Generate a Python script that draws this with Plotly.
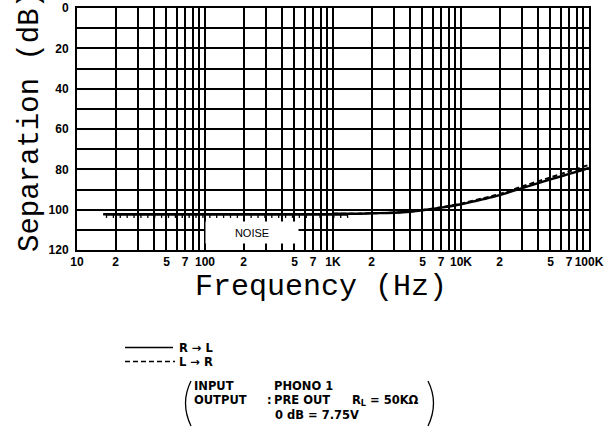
import numpy as np
import plotly.graph_objects as go

# ---------------- data ----------------
freq_hz = [1000, 1500, 2000, 3000, 4000, 5000, 7000, 10000, 15000, 20000, 30000, 50000, 70000, 100000]
sep_r_to_l = [102.0, 102.0, 101.8, 101.5, 101.0, 100.3, 99.0, 97.3, 94.8, 92.8, 89.3, 85.0, 82.3, 79.3]
sep_l_to_r = [102.0, 102.0, 101.8, 101.5, 101.0, 100.2, 98.8, 97.0, 94.3, 92.2, 88.5, 84.0, 81.0, 77.8]

noise_start_hz = 16
noise_end_hz = 1300
noise_level_db = 102.3

x_tick_vals = [10, 20, 30, 40, 50, 60, 70, 80, 90,
               100, 200, 300, 400, 500, 600, 700, 800, 900,
               1000, 2000, 3000, 4000, 5000, 6000, 7000, 8000, 9000,
               10000, 20000, 30000, 40000, 50000, 60000, 70000, 80000, 90000,
               100000]
x_tick_text = ["10", "2", "", "", "5", "", "7", "", "",
               "100", "2", "", "", "5", "", "7", "", "",
               "1K", "2", "", "", "5", "", "7", "", "",
               "10K", "2", "", "", "5", "", "7", "", "",
               "100K"]
y_tick_vals = [0, 10, 20, 30, 40, 50, 60, 70, 80, 90, 100, 110, 120]
y_tick_text = ["0", "", "20", "", "40", "", "60", "", "80", "", "100", "", "120"]

# ---------------- layout helpers (pixel -> paper) ----------------
L, R, T, B = 77, 589, 8, 250
W, H = 612, 434
def px(xp):
    return (xp - L) / (R - L)
def py(yp):
    return (B - yp) / (B - T)

fig = go.Figure()

# noise floor with hatch marks (hatch ticks drawn as one-sided error bars)
n_hatch = 36
noise_x = np.logspace(np.log10(noise_start_hz + 1), np.log10(noise_end_hz), n_hatch)
fig.add_trace(go.Scatter(
    x=noise_x, y=[noise_level_db] * n_hatch, mode="lines",
    line=dict(color="black", width=2.4), showlegend=False, hoverinfo="skip",
    error_y=dict(type="data", symmetric=False, array=[1.8] * n_hatch,
                 arrayminus=[0] * n_hatch, width=0, thickness=1.3, color="black")))
fig.add_trace(go.Scatter(
    x=[noise_start_hz, noise_end_hz], y=[noise_level_db, noise_level_db], mode="lines",
    line=dict(color="black", width=2.4), showlegend=False, hoverinfo="skip"))

fig.add_trace(go.Scatter(
    x=freq_hz, y=sep_l_to_r, mode="lines", name="L → R", showlegend=False,
    line=dict(color="black", width=2, dash="5px,3px", shape="spline")))
fig.add_trace(go.Scatter(
    x=freq_hz, y=sep_r_to_l, mode="lines", name="R → L", showlegend=False,
    line=dict(color="black", width=2.4, shape="spline")))

tick_font = dict(family="Liberation Sans, Arial, sans-serif", size=12, color="black", weight="bold")

fig.update_xaxes(
    type="log", range=[1, 5], tickvals=x_tick_vals, ticktext=x_tick_text,
    showgrid=True, gridcolor="black", gridwidth=1.6,
    showline=True, linecolor="black", linewidth=2, mirror=True,
    ticks="", tickfont=tick_font, zeroline=False, tickangle=0, automargin=False)
fig.update_yaxes(
    range=[120, 0], tickvals=y_tick_vals, ticktext=y_tick_text,
    showgrid=True, gridcolor="black", gridwidth=1.6,
    showline=True, linecolor="black", linewidth=2, mirror=True,
    ticks="", tickfont=tick_font, zeroline=False, ticklabelstandoff=4, automargin=False)

title_font = dict(family="Liberation Mono, DejaVu Sans Mono, monospace", size=29, color="black")
ann_font = dict(family="DejaVu Sans, sans-serif", size=11.5, color="black", weight="bold")

def label(text, xp, yp, **kw):
    d = dict(text=text, x=px(xp), y=py(yp), xref="paper", yref="paper",
             xanchor="left", yanchor="middle", showarrow=False, font=ann_font)
    d.update(kw)
    return d

annotations = [
    # axis titles
    dict(text="Frequency (Hz)", x=px(321), y=py(287), xref="paper", yref="paper",
         xanchor="center", yanchor="middle", showarrow=False,
         font=dict(family=title_font["family"], size=30, color="black")),
    dict(text="Separation (dB)", x=px(30), y=py(122), xref="paper", yref="paper",
         xanchor="center", yanchor="middle", showarrow=False, textangle=-90,
         font=title_font),
    # NOISE label box
    dict(text="NOISE", x=np.log10(232), y=111.2, xref="x", yref="y",
         showarrow=False, bgcolor="white", width=90, height=19,
         font=dict(family="Liberation Sans, Arial, sans-serif", size=11, color="black")),
    # legend texts
    label("R → L", 177, 347.5),
    label("L → R", 177, 361.5),
    # test conditions
    label("INPUT", 192, 386),
    label("PHONO 1", 272, 386),
    label("OUTPUT", 192, 400),
    label(":", 265, 400),
    label("PRE OUT", 272, 400),
    label("R<sub>L</sub> = 50KΩ", 350, 400),
    label("0 dB = 7.75V", 273, 415),
]

shapes = [
    # legend line samples
    dict(type="line", xref="paper", yref="paper", x0=px(125), x1=px(173), y0=py(347.5), y1=py(347.5),
         line=dict(color="black", width=1.6)),
    dict(type="line", xref="paper", yref="paper", x0=px(125), x1=px(175), y0=py(361.5), y1=py(361.5),
         line=dict(color="black", width=1.6, dash="5px,3px")),
    # parentheses around the conditions
    dict(type="path", xref="paper", yref="paper",
         path="M {} {} Q {} {} {} {}".format(px(191), py(381), px(180), py(403), px(191), py(426)),
         line=dict(color="black", width=1.3)),
    dict(type="path", xref="paper", yref="paper",
         path="M {} {} Q {} {} {} {}".format(px(428), py(381), px(439), py(403), px(428), py(426)),
         line=dict(color="black", width=1.3)),
]

fig.update_layout(
    width=W, height=H,
    margin=dict(l=L, r=W - R, t=T, b=H - B, pad=0, autoexpand=False),
    paper_bgcolor="white", plot_bgcolor="white",
    showlegend=False,
    annotations=annotations, shapes=shapes,
)

fig.write_html("out.html", config={"displayModeBar": False},
               post_script="document.body.style.margin='0px';")
